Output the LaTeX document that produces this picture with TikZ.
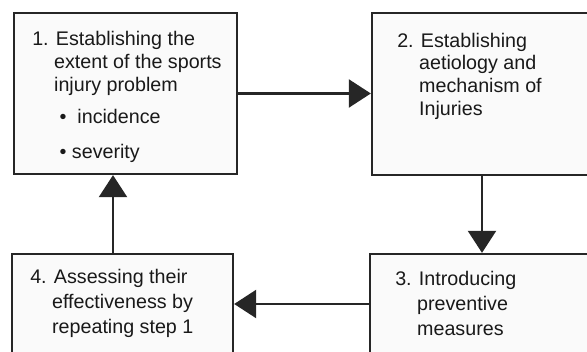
\documentclass[tikz,border=0pt]{standalone}
\usepackage{fontspec}
\setmainfont{Liberation Sans}
\usetikzlibrary{arrows.meta}
\newcommand{\stepindent}{\phantom{1.}\ }

\begin{document}
\begin{tikzpicture}[x=0.025cm, y=-0.025cm,
    stepbox/.style={rectangle, draw=black!85, line width=1.6pt, fill=gray!4, inner sep=0pt},
    steptext/.style={anchor=north west, align=left, inner sep=0pt, text=black!90, font=\fontsize{14}{16.2}\selectfont},
    flow/.style={draw=black!85, line width=1.6pt, -{Triangle[length=0.55cm, width=0.7cm]}}]
            \useasboundingbox (0,0) rectangle (587,352);
            \clip (0,0) rectangle (587,352);
            \node[stepbox, minimum width=5.575cm, minimum height=4.025cm] (box1) at (125.5,93.5) {};
            \node[stepbox, minimum width=5.5cm, minimum height=4.05cm] (box2) at (482,94) {};
            \node[stepbox, minimum width=5.55cm, minimum height=2.5cm] (box3) at (481,304) {};
            \node[stepbox, minimum width=5.525cm, minimum height=2.5cm] (box4) at (122.5,304) {};

            \node[steptext] (t1) at (32,31) {1. Establishing the\\ \stepindent extent of the sports\\ \stepindent injury problem\\[6.6pt] \stepindent\ \textbullet\ \ incidence\\[8.7pt] \stepindent\ \textbullet\ severity};
            \node[steptext] (t2) at (397,32.5) {2. Establishing\\ \stepindent aetiology and\\ \stepindent mechanism of\\ \stepindent Injuries};
            \node[steptext] (t3) at (395,270.5) {3. Introducing\\[1.6pt] \stepindent preventive\\[1.6pt] \stepindent measures};
            \node[steptext] (t4) at (30,268.5) {4. Assessing their\\[1.6pt] \stepindent effectiveness by\\[1.6pt] \stepindent repeating step 1};

            \draw[flow] (box1.east) -- (box1.east -| box2.west);
            \draw[flow] (box2.south) -- (box2.south |- box3.north);
            \draw[flow] (box3.west) -- (box3.west -| box4.east);
            \draw[flow] (box4.north -| 113,0) -- (box1.south -| 113,0);
        \end{tikzpicture}
\end{document}
